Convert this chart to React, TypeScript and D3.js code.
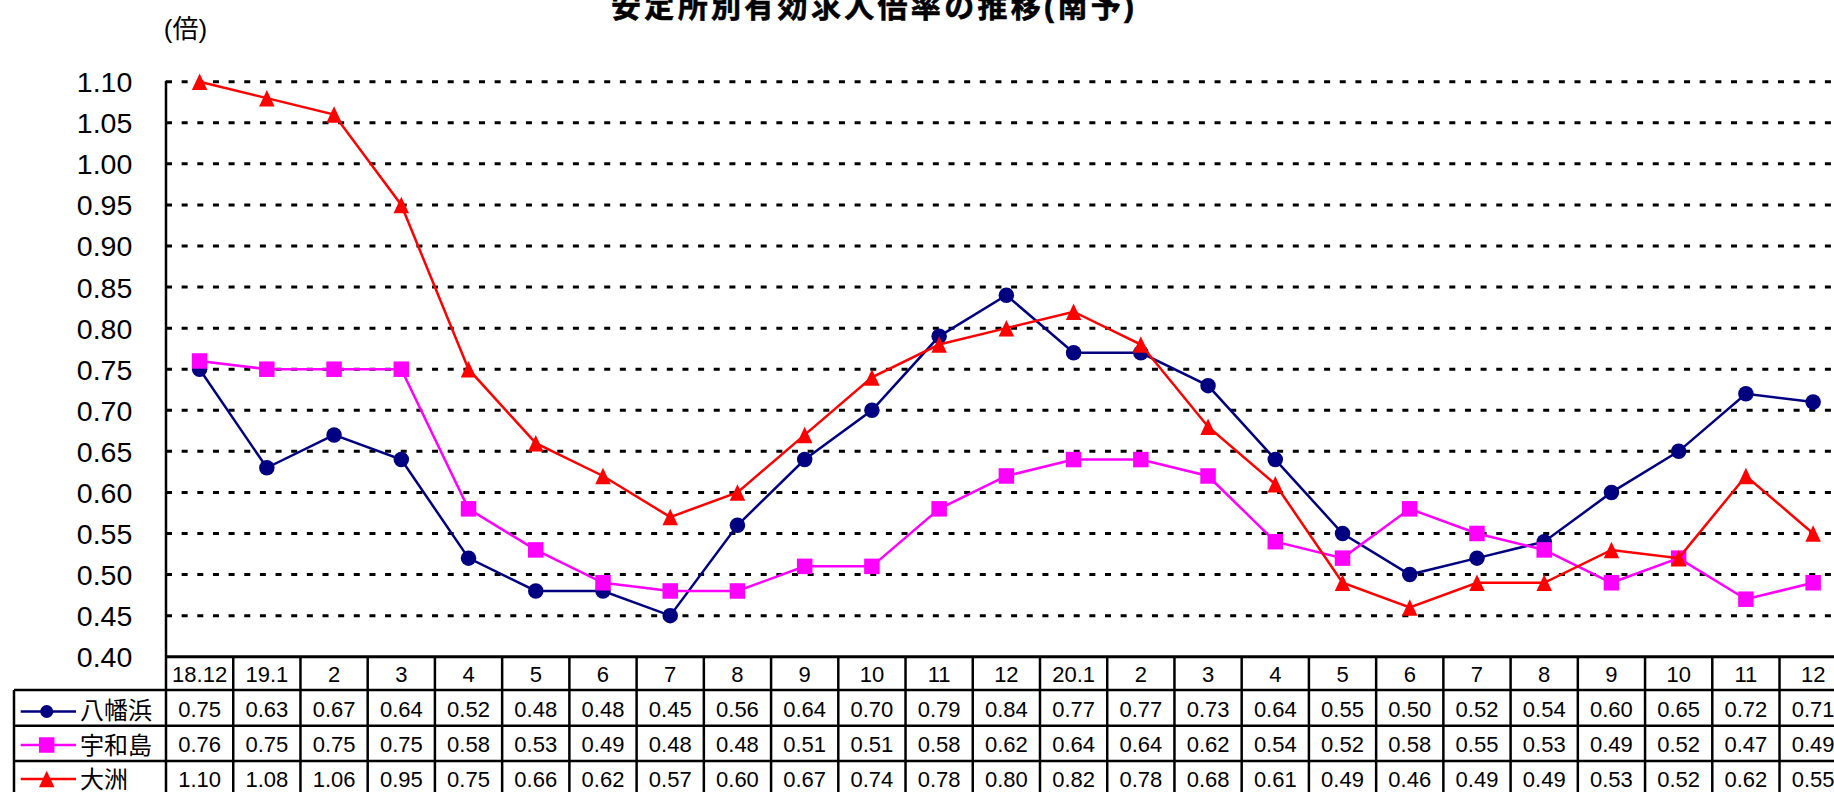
import React from "react";
import * as d3 from "d3";

const categories = ["18.12","19.1","2","3","4","5","6","7","8","9","10","11","12","20.1","2","3","4","5","6","7","8","9","10","11","12"];
const yawatahama = [0.75,0.63,0.67,0.64,0.52,0.48,0.48,0.45,0.56,0.64,0.70,0.79,0.84,0.77,0.77,0.73,0.64,0.55,0.50,0.52,0.54,0.60,0.65,0.72,0.71];
const uwajima = [0.76,0.75,0.75,0.75,0.58,0.53,0.49,0.48,0.48,0.51,0.51,0.58,0.62,0.64,0.64,0.62,0.54,0.52,0.58,0.55,0.53,0.49,0.52,0.47,0.49];
const ozu = [1.10,1.08,1.06,0.95,0.75,0.66,0.62,0.57,0.60,0.67,0.74,0.78,0.80,0.82,0.78,0.68,0.61,0.49,0.46,0.49,0.49,0.53,0.52,0.62,0.55];
const seriesNames = ["八幡浜","宇和島","大洲"];
const yTicks = [0.40,0.45,0.50,0.55,0.60,0.65,0.70,0.75,0.80,0.85,0.90,0.95,1.00,1.05,1.10];
const title = "安定所別有効求人倍率の推移(南予)";
const unitLabel = "(倍)";

const W = 1834, H = 792;
const X0 = 166, COLW = 67.23;
const YTOP = 81.7, YBOT = 656.7;
const ROWS = [656.7, 690, 725.7, 761, 797];
const LEGX = 14;
const NUM = "'Liberation Sans', Arial, sans-serif";
const CJK = "'Liberation Sans', 'Noto Sans CJK JP', sans-serif";

const colors = ["#000080", "#FF00FF", "#FF0000"];
const allSeries = [yawatahama, uwajima, ozu];

function Marker({ kind, x, y, s, color }: { kind: number; x: number; y: number; s: number; color: string }) {
  if (kind === 0) return <circle cx={x} cy={y} r={s / 2} fill={color} />;
  if (kind === 1) return <rect x={x - s / 2} y={y - s / 2} width={s} height={s} fill={color} />;
  const h = s;
  return <path d={`M${x},${y - h / 2 - 0.5} L${x + s / 2},${y + h / 2 + 0.5} L${x - s / 2},${y + h / 2 + 0.5} Z`} fill={color} />;
}

export default function App() {
  const x = d3.scaleBand<number>().domain(d3.range(categories.length)).range([X0, X0 + COLW * categories.length]);
  const y = d3.scaleLinear().domain([0.40, 1.10]).range([YBOT, YTOP]);
  const cx = (i: number) => (x(i) as number) + x.bandwidth() / 2;
  const line = d3.line<number>().x((_, i) => cx(i)).y((d) => y(d));
  const xEnd = X0 + COLW * categories.length;
  const fmt = d3.format(".2f");

  const rowBaselines = [681.7, 716.7, 751.7, 786.5];
  const legendY = [711.5, 745, 779];
  const legendTextBase = [719, 753.5, 788];

  return (
    <svg width={W} height={H} style={{ position: "absolute", left: 0, top: 0, background: "#fff" }}>
      <rect x={0} y={0} width={W} height={H} fill="#fff" />
      <text x={872.5} y={17} textAnchor="middle" fontFamily={CJK} fontWeight="bold" fontSize={30} textLength={523} lengthAdjust="spacing" stroke="#000" strokeWidth={0.6}>{title}</text>
      <text x={185.5} y={38} textAnchor="middle" fontFamily={CJK} fontSize={26}>{unitLabel}</text>

      {/* gridlines */}
      {yTicks.filter((t) => t > 0.41).map((t) => (
        <line key={"g" + t} x1={X0} x2={xEnd} y1={y(t)} y2={y(t)} stroke="#000" strokeWidth={3} strokeDasharray="6 9.65" />
      ))}
      {/* y tick labels */}
      {yTicks.map((t) => (
        <text key={"t" + t} x={132.3} y={y(t) + 10.5} textAnchor="end" fontFamily={NUM} fontSize={28.5}>{fmt(t)}</text>
      ))}
      {/* axes */}
      <line x1={X0} x2={X0} y1={YTOP - 1} y2={ROWS[4]} stroke="#000" strokeWidth={2.5} />

      {/* table grid */}
      <line x1={X0} x2={xEnd} y1={ROWS[0]} y2={ROWS[0]} stroke="#000" strokeWidth={3} />
      {ROWS.slice(1).map((r, k) => (
        <line key={"r" + k} x1={LEGX} x2={xEnd} y1={r} y2={r} stroke="#000" strokeWidth={2.5} />
      ))}
      <line x1={LEGX} x2={LEGX} y1={ROWS[1]} y2={ROWS[4]} stroke="#000" strokeWidth={2.5} />
      {categories.map((_, i) => (
        <line key={"v" + i} x1={(x(i) as number) + COLW} x2={(x(i) as number) + COLW} y1={ROWS[0]} y2={ROWS[4]} stroke="#000" strokeWidth={2.5} />
      ))}
      {categories.map((c, i) => (
        <text key={"c" + i} x={cx(i)} y={rowBaselines[0]} textAnchor="middle" fontFamily={NUM} fontSize={22}>{c}</text>
      ))}
      {allSeries.map((s, k) =>
        s.map((v, i) => (
          <text key={"v" + k + "-" + i} x={cx(i)} y={rowBaselines[k + 1]} textAnchor="middle" fontFamily={NUM} fontSize={22}>{fmt(v)}</text>
        ))
      )}

      {/* legend in table */}
      {seriesNames.map((n, k) => (
        <g key={"l" + k}>
          <line x1={20.7} x2={76} y1={legendY[k]} y2={legendY[k]} stroke={colors[k]} strokeWidth={2.5} />
          <Marker kind={k} x={46.7} y={legendY[k]} s={k === 0 ? 13 : 15.5} color={colors[k]} />
          <text x={80} y={legendTextBase[k]} fontFamily={CJK} fontSize={24}>{n}</text>
        </g>
      ))}

      {/* series */}
      {allSeries.map((s, k) => (
        <g key={"s" + k}>
          <path d={line(s) as string} fill="none" stroke={colors[k]} strokeWidth={2.5} />
          {s.map((v, i) => (
            <Marker key={i} kind={k} x={cx(i)} y={y(v)} s={15.5} color={colors[k]} />
          ))}
        </g>
      ))}
    </svg>
  );
}
